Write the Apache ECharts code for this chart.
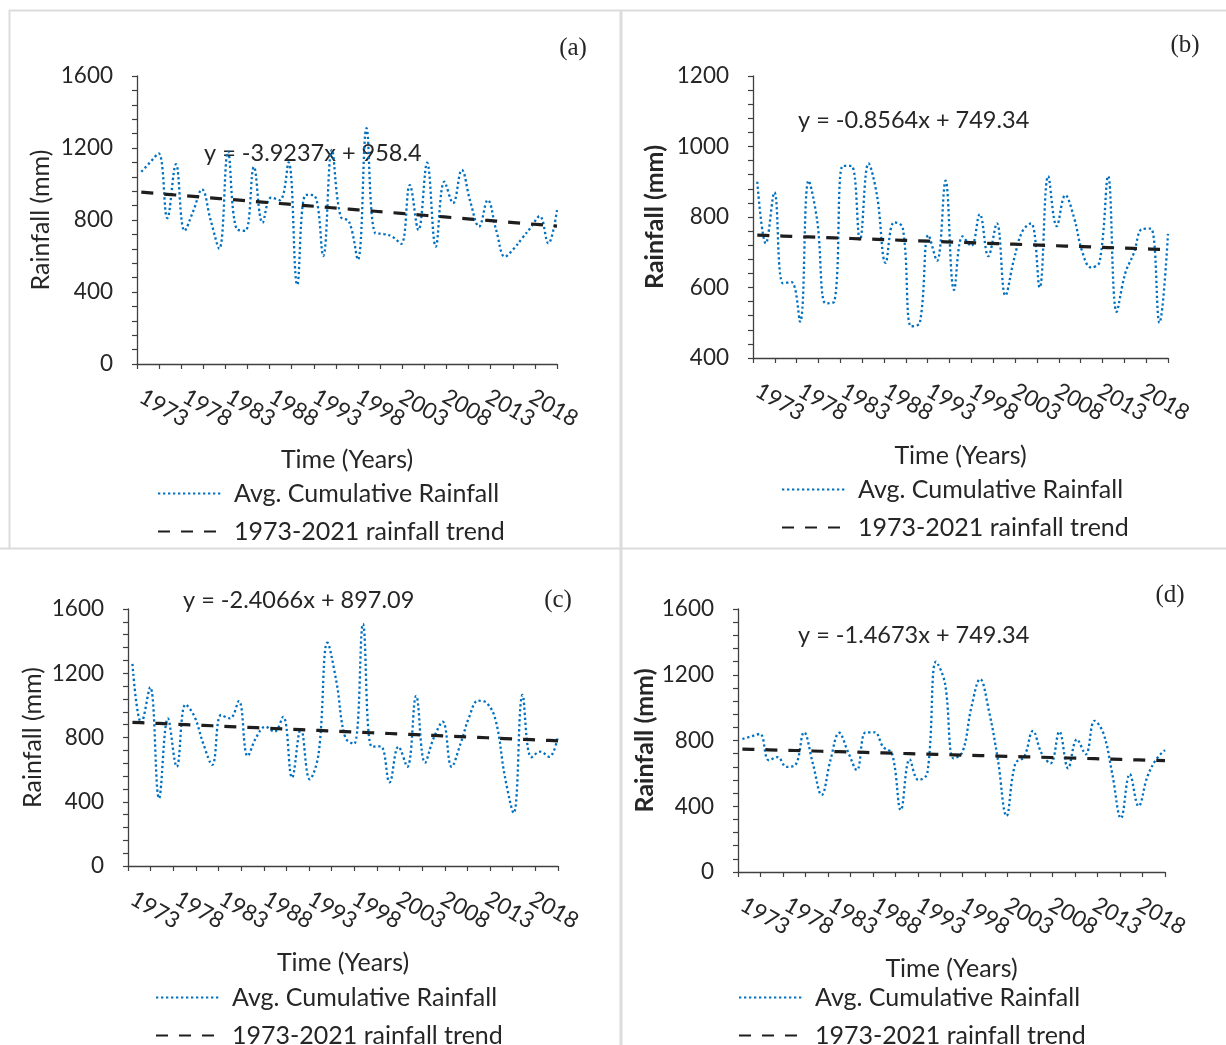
<!DOCTYPE html>
<html>
<head>
<meta charset="utf-8">
<title>Rainfall 1973-2021</title>
<script src="https://cdn.jsdelivr.net/npm/echarts@6/dist/echarts.min.js"></script>
<style>
  html, body { margin: 0; padding: 0; background: #ffffff; }
  #chart { width: 1226px; height: 1045px; }
</style>
</head>
<body>
<div id="chart"></div>
<script>
// ---- data ----------------------------------------------------------------
const years = [
  1973, 1974, 1975, 1976, 1977, 1978, 1979, 1980, 1981, 1982,
  1983, 1984, 1985, 1986, 1987, 1988, 1989, 1990, 1991, 1992,
  1993, 1994, 1995, 1996, 1997, 1998, 1999, 2000, 2001, 2002,
  2003, 2004, 2005, 2006, 2007, 2008, 2009, 2010, 2011, 2012,
  2013, 2014, 2015, 2016, 2017, 2018, 2019, 2020, 2021
];
const yearTickLabels = [1973, 1978, 1983, 1988, 1993, 1998, 2003, 2008, 2013, 2018];

// average cumulative rainfall (mm), one value per year
const rainA = [
  1068, 1120, 1170, 810, 1110, 740, 850, 970, 800, 640,
  1180, 750, 740, 1095, 785, 925, 910, 1120, 440, 940,
  935, 600, 1190, 820, 790, 580, 1310, 727, 722, 707,
  667, 994, 744, 1118, 652, 1013, 894, 1078, 900, 763,
  911, 740, 596, 640, 700, 760, 822, 670, 855
];
const rainB = [
  900, 725, 870, 612, 615, 503, 903, 790, 555, 560,
  945, 945, 735, 952, 860, 670, 785, 770, 490, 500,
  749, 676, 903, 593, 745, 718, 808, 689, 782, 577,
  680, 760, 782, 600, 916, 774, 862, 800, 700, 657,
  672, 916, 531, 640, 697, 766, 767, 500, 752
];
const rainC = [
  1258, 890, 1113, 421, 919, 618, 1006, 930, 760, 629,
  940, 919, 1027, 685, 805, 867, 836, 929, 550, 856,
  540, 700, 1390, 1150, 800, 760, 1507, 743, 745, 521,
  743, 618, 1059, 643, 800, 898, 618, 760, 930, 1029,
  1013, 900, 560, 330, 1065, 677, 712, 680, 809
];
const rainD = [
  809, 825, 840, 680, 699, 640, 650, 850, 660, 468,
  680, 847, 730, 620, 850, 850, 760, 720, 377, 685,
  560, 600, 1279, 1150, 691, 730, 1000, 1174, 980, 690,
  341, 660, 700, 858, 720, 661, 854, 631, 807, 716,
  920, 845, 600, 327, 596, 401, 580, 685, 742
];

// linear trend coefficients [slope, intercept], x = 1 .. 49
const trendA = [-3.9237, 958.4];
const trendB = [-0.8564, 749.34];
const trendC = [-2.4066, 897.09];
const trendD = [-1.4673, 749.34];

const seriesName = 'Avg. Cumulative Rainfall';
const trendName = '1973-2021 rainfall trend';

// ---- layout --------------------------------------------------------------
const FONT = 'Lato, "Noto Sans", sans-serif';
const TXT = '#262626';
const AX = '#404040';
const RAIN_COLOR = '#0070C0';
const TREND_COLOR = '#1e1e1e';

const panels = [
  { rain: rainA, coef: trendA, letter: '(a)', grid: { left: 137, top: 76, width: 420, height: 288 },
    y: [0, 1600, 400], boldY: false, yGap: 84, xGap: 83, eq: [204, 155], let: [573, 48], leg: [157, 481] },
  { rain: rainB, coef: trendB, letter: '(b)', grid: { left: 753, top: 76, width: 415, height: 282 },
    y: [400, 1200, 200], boldY: true, yGap: 86, xGap: 85, eq: [798, 122], let: [1185, 45], leg: [781, 477] },
  { rain: rainC, coef: trendC, letter: '(c)', grid: { left: 128, top: 609, width: 430, height: 257 },
    y: [0, 1600, 400], boldY: false, yGap: 83, xGap: 84, eq: [183, 602], let: [558, 600], leg: [155, 985] },
  { rain: rainD, coef: trendD, letter: '(d)', grid: { left: 738, top: 609, width: 427, height: 263 },
    y: [0, 1600, 400], boldY: true, yGap: 78, xGap: 84, eq: [798, 637], let: [1170, 595], leg: [738, 985] }
];

const X_MIN = 1972.5, X_MAX = 2021;
const xTicks = [];
for (let k = 0; k <= 19; k++) xTicks.push(X_MIN + k * (X_MAX - X_MIN) / 19);

// rotated year labels are split over two stacked axes so that neighbouring
// labels may touch, as they do on a spreadsheet category axis
const labelsEven = yearTickLabels.filter((_, k) => k % 2 === 0);
const labelsOdd = yearTickLabels.filter((_, k) => k % 2 === 1);

const yearLabelStyle = {
  rotate: -30, margin: 31, showMinLabel: true, showMaxLabel: true, hideOverlap: false,
  fontSize: 22.5, fontFamily: FONT, color: TXT, formatter: v => String(v)
};

const grids = [], xAxes = [], yAxes = [], series = [], legends = [], graphics = [];

panels.forEach((p, i) => {
  grids.push(Object.assign({ containLabel: false }, p.grid));

  xAxes.push({
    type: 'value', gridIndex: i, position: 'bottom', min: X_MIN, max: X_MAX,
    axisLine: { show: true, lineStyle: { color: AX, width: 1.3 } },
    axisTick: { show: true, length: 5, lineStyle: { color: AX, width: 1.2 }, customValues: xTicks },
    axisLabel: Object.assign({ customValues: labelsEven }, yearLabelStyle),
    splitLine: { show: false },
    name: 'Time (Years)', nameLocation: 'middle', nameGap: p.xGap,
    nameTextStyle: { fontSize: 25, fontFamily: FONT, color: TXT }
  });
  xAxes.push({
    type: 'value', gridIndex: i, position: 'bottom', offset: 0, min: X_MIN, max: X_MAX,
    axisLine: { show: false }, axisTick: { show: false },
    axisLabel: Object.assign({ customValues: labelsOdd }, yearLabelStyle),
    splitLine: { show: false }
  });

  yAxes.push({
    type: 'value', gridIndex: i, min: p.y[0], max: p.y[1], interval: p.y[2],
    axisLine: { show: true, lineStyle: { color: AX, width: 1.3 } },
    axisTick: { show: true, length: 5, lineStyle: { color: AX, width: 1.2 } },
    minorTick: { show: true, splitNumber: 5, length: 5, lineStyle: { color: AX, width: 1.2 } },
    axisLabel: { margin: 24, fontSize: 22.5, fontFamily: FONT, color: TXT, formatter: v => String(v) },
    splitLine: { show: false },
    name: 'Rainfall (mm)', nameLocation: 'middle', nameGap: p.yGap,
    nameTextStyle: { fontSize: 25, fontFamily: FONT, color: TXT, fontWeight: p.boldY ? 'bold' : 'normal' }
  });

  series.push({
    name: seriesName, type: 'line', xAxisIndex: 2 * i, yAxisIndex: i,
    data: years.map((yr, k) => [yr, p.rain[k]]),
    smooth: 0.4, symbol: 'none', showSymbol: false, z: 2,
    itemStyle: { color: RAIN_COLOR },
    lineStyle: { color: RAIN_COLOR, width: 2.3, type: [2.3, 2.7], cap: 'butt' }
  });

  series.push({
    name: trendName, type: 'line', xAxisIndex: 2 * i, yAxisIndex: i,
    data: years.map((yr, k) => [yr, p.coef[0] * (k + 1) + p.coef[1]]),
    symbol: 'none', showSymbol: false, z: 3,
    itemStyle: { color: TREND_COLOR },
    lineStyle: { color: TREND_COLOR, width: 3.2, type: [12, 11] }
  });

  legends.push({
    left: p.leg[0], top: p.leg[1], height: 120, padding: 0,
    orient: 'vertical', selectedMode: false,
    data: [seriesName, trendName], itemWidth: 65, itemHeight: 14, itemGap: 13,
    itemStyle: { opacity: 0 },
    textStyle: { fontSize: 25, fontFamily: FONT, color: TXT, padding: [0, 0, 0, 6] }
  });

  const sign = p.coef[1] >= 0 ? '+' : '-';
  graphics.push({
    type: 'text', left: p.eq[0], top: p.eq[1] - 14,
    style: { text: `y = ${p.coef[0]}x ${sign} ${Math.abs(p.coef[1])}`, fontSize: 23.5, fontFamily: FONT, fill: TXT }
  });
  graphics.push({
    type: 'text', x: p.let[0], y: p.let[1],
    style: { text: p.letter, fontSize: 25, fontFamily: '"Liberation Serif", "DejaVu Serif", serif',
      fill: TXT, align: 'center', verticalAlign: 'middle' }
  });
});

// panel frames
const frame = { stroke: '#dcdcdc', lineWidth: 2 };
graphics.push(
  { type: 'line', shape: { x1: 9, y1: 10.5, x2: 1226, y2: 10.5 }, style: frame, silent: true },
  { type: 'line', shape: { x1: 9.5, y1: 10, x2: 9.5, y2: 549 }, style: frame, silent: true },
  { type: 'line', shape: { x1: 621, y1: 10, x2: 621, y2: 1045 }, style: { stroke: '#dcdcdc', lineWidth: 3 }, silent: true },
  { type: 'line', shape: { x1: 0, y1: 548.5, x2: 1226, y2: 548.5 }, style: frame, silent: true }
);

const chart = echarts.init(document.getElementById('chart'), null, { renderer: 'canvas' });
chart.setOption({
  backgroundColor: '#ffffff',
  animation: false,
  grid: grids,
  xAxis: xAxes,
  yAxis: yAxes,
  legend: legends,
  series: series,
  graphic: graphics
});
</script>
</body>
</html>
